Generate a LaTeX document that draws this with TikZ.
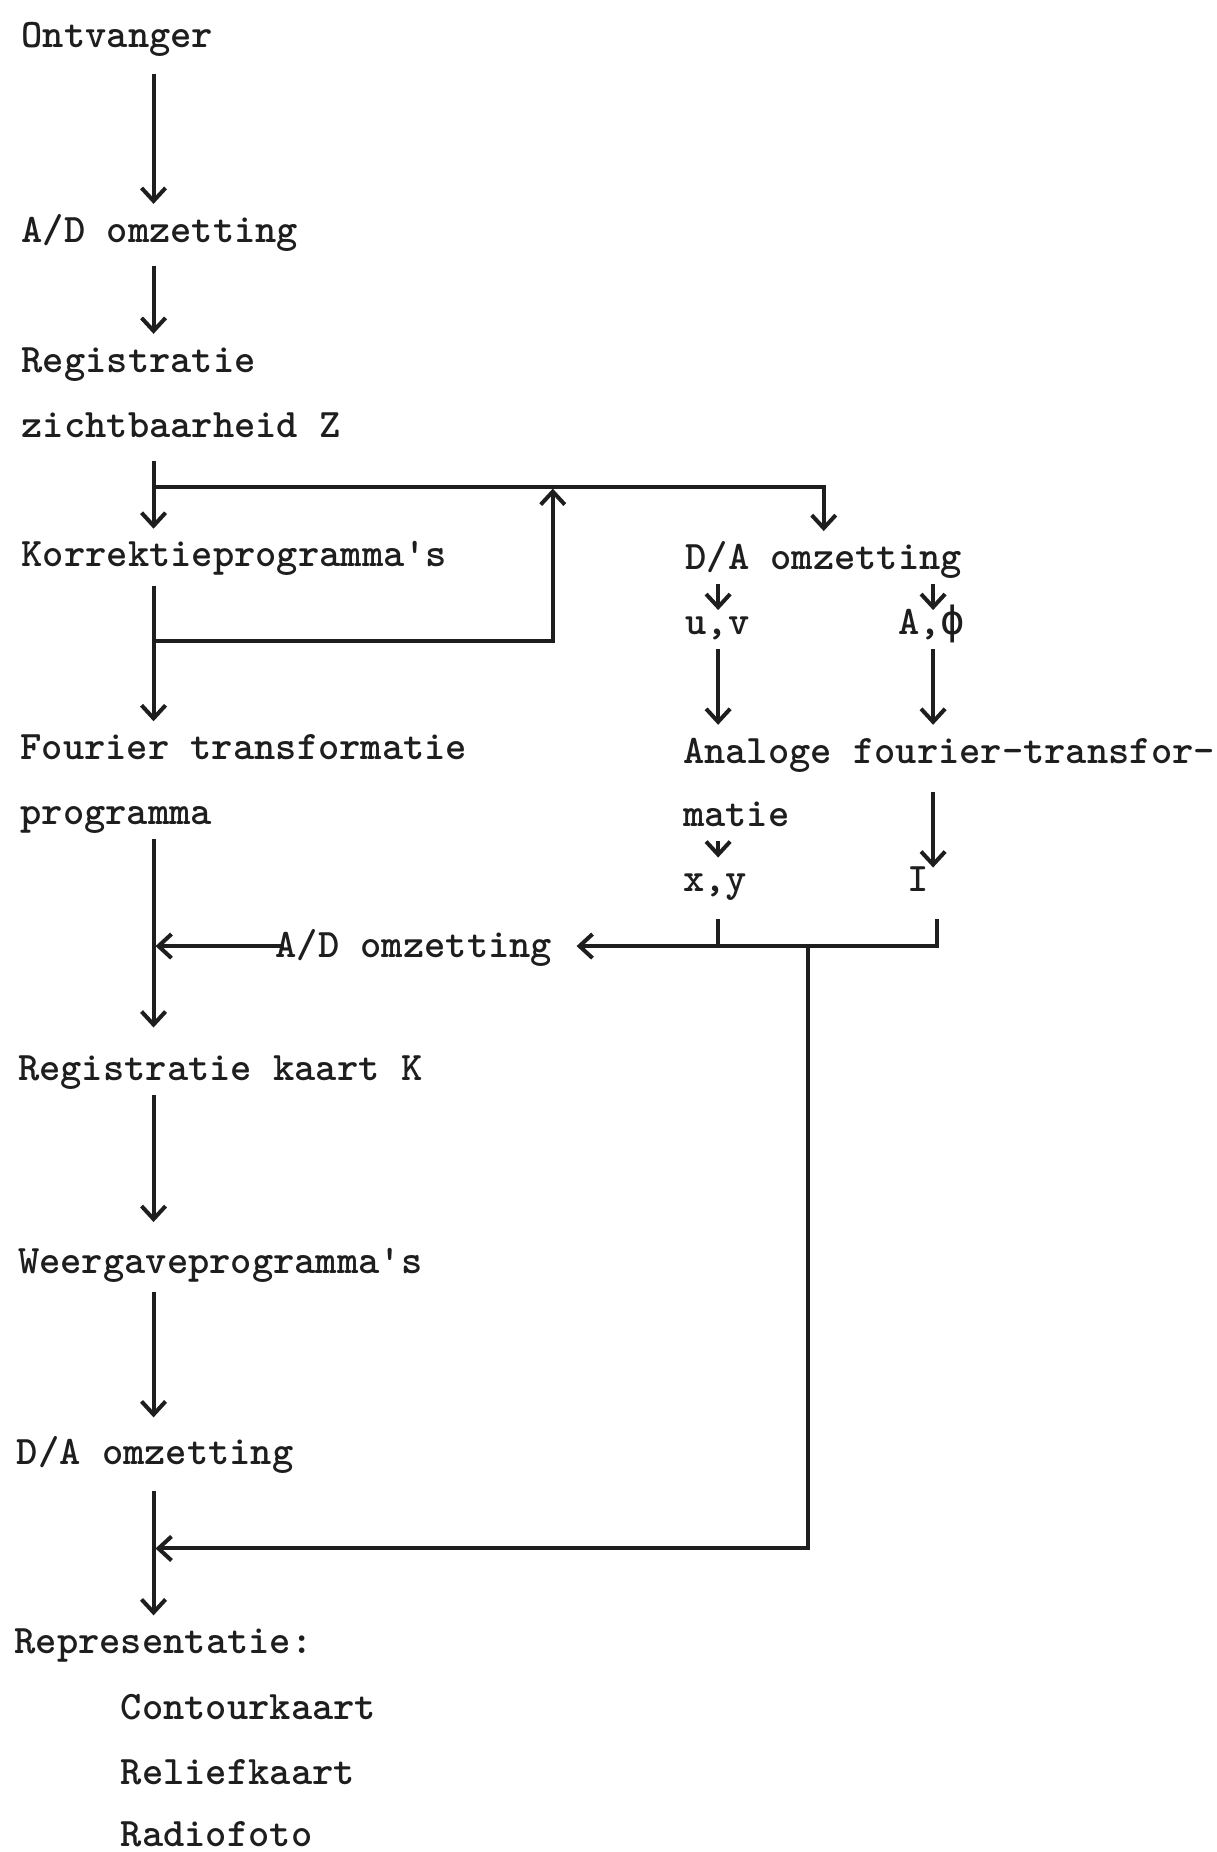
\documentclass[tikz,border=0pt]{standalone}
\usepackage{fontspec}
\newfontfamily\phifont{DejaVu Sans Mono}
\usetikzlibrary{arrows.meta,calc}
\definecolor{ink}{HTML}{1E1E1E}
\tikzset{
  lbl/.style={anchor=west, inner sep=0pt, minimum height=26pt, text height=11.8pt, text depth=0pt,
    font=\ttfamily\bfseries\fontsize{20.25}{24}\selectfont, text=ink},
  ln/.style={draw=ink, line width=2pt},
  arr/.style={ln, -{Straight Barb[length=6.5pt,width=12pt]}},
}
\begin{document}
\begin{tikzpicture}[x=0.5903pt, y=-0.5903pt]
\useasboundingbox (0,0) rectangle (1030,1568);
\fill[white] (0,0) rectangle (1030,1568);
% helper coordinates
\coordinate (cx) at (130,0);
\coordinate (fb) at (468,0);
\coordinate (c1) at (608,0);
\coordinate (c2) at (790,0);
\coordinate (t2) at (793,0);
\coordinate (j1) at (130,412);
\coordinate (j2) at (130,543);
\coordinate (jb) at (684,801);
\coordinate (jl) at (130,1311);
% left column
\node[lbl] (ontv)  at (18,30)   {Ontvanger};
\node[lbl] (ad1)   at (18,195)  {A/D omzetting};
\node[lbl] (reg)   at (18,305)  {Registratie};
\node[lbl] (zicht) at (18,360)  {zichtbaarheid Z};
\node[lbl] (korr)  at (18,470)  {Korrektieprogramma's};
\node[lbl] (four)  at (17,633)  {Fourier transformatie};
\node[lbl] (prog)  at (17,688)  {programma};
\node[lbl] (ad2)   at (233,801) {A/D omzetting};
\node[lbl] (regk)  at (15,905)  {Registratie kaart K};
\node[lbl] (weer)  at (15,1068) {Weergaveprogramma's};
\node[lbl] (da2)   at (14,1230) {D/A omzetting};
\node[lbl] (repr)  at (12,1390) {Representatie:};
\node[lbl] (cont)  at (102,1446) {Contourkaart};
\node[lbl] (rel)   at (102,1501) {Reliefkaart};
\node[lbl] (radio) at (102,1553) {Radiofoto};
% right column
\node[lbl] (da1)   at (580,472) {D/A omzetting};
\node[lbl] (uv)    at (580,527) {u,v};
\node[lbl] (aphi)  at (760,527) {A,{\phifont\mdseries ϕ}};
\node[lbl] (anal)  at (578,636) {Analoge fourier-transfor-};
\node[lbl] (matie) at (578,690) {matie};
\node[lbl] (xy)    at (578,745) {x,y};
\node[lbl] (I)     at (768,745) {I};
% main column
\draw[arr, shorten <=6pt] (ontv.south -| cx) -- (ad1.north -| cx);
\draw[arr, shorten <=4.5pt] (ad1.south -| cx) -- (reg.north -| cx);
\draw[ln, shorten <=4.5pt] (zicht.south -| cx) -- (j1);
\draw[arr] (j1) -- (korr.north -| cx);
\draw[ln, shorten <=2pt] (korr.south -| cx) -- (j2);
\draw[arr] (j2) -- (four.north -| cx);
\draw[arr, shorten >=7.5pt] (prog.south -| cx) -- (regk.north -| cx);
\draw[arr, shorten >=6.5pt] (regk.south -| cx) -- (weer.north -| cx);
\draw[arr, shorten <=2pt, shorten >=4.5pt] (weer.south -| cx) -- (da2.north -| cx);
\draw[arr, shorten <=6pt] (da2.south -| cx) -- (repr.north -| cx);
% branch to D/A and feedback
\draw[arr] (j1) -| (da1.north);
\draw[arr, shorten >=1pt] (j2) -| (j1 -| fb);
% right branch arrows
\draw[arr, shorten >=-7pt] (da1.south -| c1) -- (uv.north -| c1);
\draw[arr, shorten >=-7pt] (da1.south -| c2) -- (aphi.north -| c2);
\draw[arr] (uv.south -| c1) -- (anal.north -| c1);
\draw[arr] (aphi.south -| c2) -- (anal.north -| c2);
\draw[arr, shorten <=7pt, shorten >=-7pt] (anal.south -| c2) -- (I.north -| c2);
\draw[arr, shorten >=-2pt] (matie.south -| c1) -- (xy.north -| c1);
% return bus
\draw[ln, shorten <=6.5pt] (xy.south -| c1) -- (c1 |- jb);
\draw[arr, shorten <=6.5pt, shorten >=12pt] (I.south -| t2) -- (t2 |- jb) -- (ad2.east);
\draw[arr, shorten <=-4.5pt, shorten >=1pt] (ad2.west) -- (ad2.west -| cx);
\draw[arr, shorten >=1pt] (jb) |- (jl);
\end{tikzpicture}
\end{document}
